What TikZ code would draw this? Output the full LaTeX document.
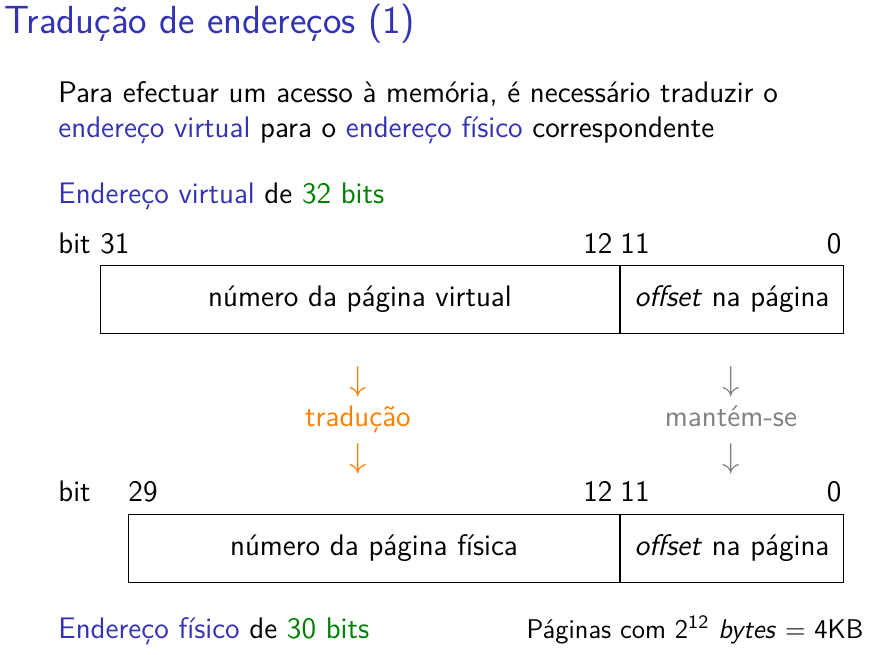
\documentclass[tikz,border=0pt]{standalone}
\usepackage{fontspec}
\definecolor{struct}{RGB}{51,51,179}
\definecolor{dgreen}{RGB}{0,128,0}
\definecolor{orng}{RGB}{255,128,0}
\definecolor{mgray}{RGB}{128,128,128}
\tikzset{
  txt/.style={font=\sffamily\fontsize{12.35}{14}\selectfont, inner sep=0pt},
  smalltxt/.style={font=\sffamily\fontsize{11.25}{13}\selectfont, inner sep=0pt},
  arr/.style={font=\fontsize{15}{17}\selectfont, inner sep=0pt},
  ttl/.style={font=\sffamily\fontsize{16.3}{19}\selectfont, inner sep=0pt, text=struct},
  fieldbox/.style={draw, line width=0.4pt, inner sep=0pt, anchor=north west,
    font=\sffamily\fontsize{12.35}{14}\selectfont, minimum height=28.26pt},
}
\begin{document}
\begin{tikzpicture}[x=0.41562pt,y=-0.41562pt]
\useasboundingbox (0,0) rectangle (873,655);
\node[ttl, anchor=base west] (title) at (4,34) {Tradução de endereços (1)};
\node[txt, anchor=base west] (p1) at (58,103) {Para efectuar um acesso à memória, é necessário traduzir o};
\node[txt, anchor=base west] (p2) at (58,138) {\textcolor{struct}{endereço virtual} para o \textcolor{struct}{endereço físico} correspondente};
\node[txt, anchor=base west] (ev) at (58,204) {\textcolor{struct}{Endereço virtual} de \textcolor{dgreen}{32 bits}};
% virtual address
\node[txt, anchor=base west] (b31) at (58,254) {bit 31};
\node[txt, anchor=base east] (v12) at (613,254) {12};
\node[txt, anchor=base west] (v11) at (620,254) {11};
\node[txt, anchor=base east] (v0) at (842,254) {0};
\node[fieldbox, minimum width=215.71pt] (vpn) at (100,265) {número da página virtual};
\node[fieldbox, minimum width=92.68pt] (voff) at (vpn.north east) {\textit{offset} na página};
% arrows
\node[arr, text=orng] (a1) at (358,382) {$\downarrow$};
\node[txt, text=orng, anchor=base] (trad) at (358,427) {tradução};
\node[arr, text=orng] (a2) at (358,459) {$\downarrow$};
\node[arr, text=mgray] (g1) at (731,382) {$\downarrow$};
\node[txt, text=mgray, anchor=base] (mant) at (731,427) {mantém-se};
\node[arr, text=mgray] (g2) at (731,459) {$\downarrow$};
% physical address
\node[txt, anchor=base west] (bit2) at (58,502) {bit};
\node[txt, anchor=base west] (p29) at (128,502) {29};
\node[txt, anchor=base east] (p12) at (613,502) {12};
\node[txt, anchor=base west] (p11) at (620,502) {11};
\node[txt, anchor=base east] (p0) at (842,502) {0};
\node[fieldbox, minimum width=204.07pt] (ppn) at (128,514) {número da página física};
\node[fieldbox, minimum width=92.68pt] (poff) at (ppn.north east) {\textit{offset} na página};
% bottom
\node[txt, anchor=base west] (ef) at (58,638) {\textcolor{struct}{Endereço físico} de \textcolor{dgreen}{30 bits}};
\node[smalltxt, anchor=base east] (pg) at (864,638) {Páginas com $\mathsf{2}^{\mathsf{12}}$ \textit{bytes} $=$ 4KB};
\end{tikzpicture}
\end{document}
